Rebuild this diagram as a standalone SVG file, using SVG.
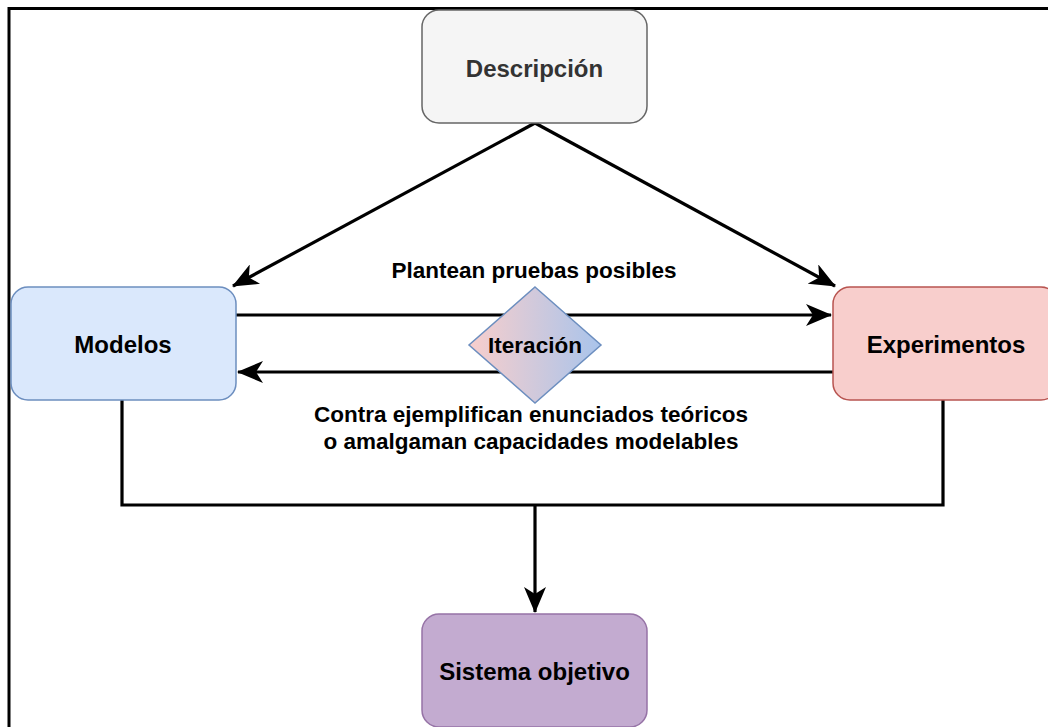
<svg xmlns="http://www.w3.org/2000/svg" width="1048" height="727" viewBox="0 0 1048 727">
<style>
.lbl{font-family:"Liberation Sans",Arial,sans-serif;font-weight:bold;font-size:22.5px;text-anchor:middle;fill:#000}
.nt{font-family:"Liberation Sans",Arial,sans-serif;font-weight:bold;font-size:24px;text-anchor:middle;dominant-baseline:central;fill:#000}
.ln{fill:none;stroke:#000;stroke-width:3.2}
</style>
<defs>
<marker id="a2" viewBox="0 0 26 22" refX="25" refY="11" markerWidth="26" markerHeight="22" markerUnits="userSpaceOnUse" orient="auto">
<path d="M0,0 L26,11 L0,22 L7,11 Z" fill="#000"/>
</marker>
<linearGradient id="gd" x1="0" y1="0" x2="1" y2="0">
<stop offset="0" stop-color="#f8cecc"/>
<stop offset="1" stop-color="#a9c4eb"/>
</linearGradient>
</defs>
<rect x="0" y="0" width="1048" height="727" fill="#fff"/>
<rect x="9" y="8.5" width="1060" height="740" fill="none" stroke="#000" stroke-width="3"/>
<g id="connectors">
<path class="ln" d="M535,123 L233,286" marker-end="url(#a2)"/>
<path class="ln" d="M535,123 L835,286" marker-end="url(#a2)"/>
<path class="ln" d="M236,315 L831,315" marker-end="url(#a2)"/>
<path class="ln" d="M833,372 L238,372" marker-end="url(#a2)"/>
<path class="ln" d="M122,400 L122,505 L943,505 L943,400"/>
<path class="ln" d="M535,505 L535,612" marker-end="url(#a2)"/>
<text class="lbl" x="534" y="278">Plantean pruebas posibles</text>
<text class="lbl" x="531" y="422">Contra ejemplifican enunciados teóricos</text>
<text class="lbl" x="531" y="449">o amalgaman capacidades modelables</text>
</g>
<g id="descripcion">
<rect x="422" y="10" width="225" height="113" rx="17" fill="#f5f5f5" stroke="#666" stroke-width="1.5"/>
<text class="nt" x="534.5" y="68" style="fill:#333">Descripción</text>
</g>
<g id="modelos">
<rect x="11" y="287" width="225" height="113" rx="17" fill="#dae8fc" stroke="#6c8ebf" stroke-width="1.5"/>
<text class="nt" x="123" y="344">Modelos</text>
</g>
<g id="experimentos">
<rect x="833" y="287" width="225" height="113" rx="17" fill="#f8cecc" stroke="#b85450" stroke-width="1.5"/>
<text class="nt" x="946" y="344">Experimentos</text>
</g>
<g id="iteracion">
<path d="M535,287 L601,345 L535,403 L469,345 Z" fill="url(#gd)" stroke="#6c8ebf" stroke-width="1.5"/>
<text class="nt" x="535" y="345" style="font-size:22.5px">Iteración</text>
</g>
<g id="sistema">
<rect x="422" y="614" width="225" height="113" rx="17" fill="#c3abd0" stroke="#9673a6" stroke-width="1.5"/>
<text class="nt" x="534.5" y="671">Sistema objetivo</text>
</g>
</svg>
